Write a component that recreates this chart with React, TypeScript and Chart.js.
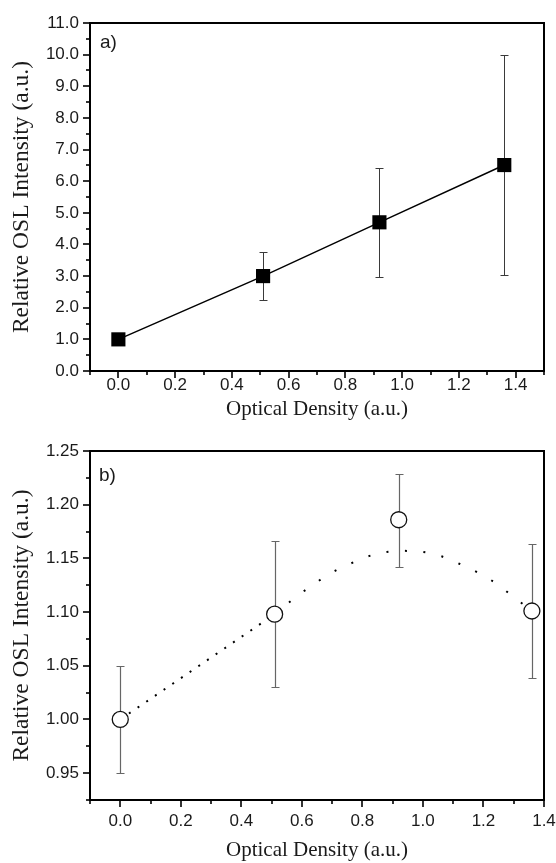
import React, { useEffect, useRef } from "react";
import { Chart, registerables } from "chart.js";

Chart.register(...registerables);

// ---------- Panel a) data ----------
const densityA = [0.0, 0.51, 0.92, 1.36];
const intensityA = [1.0, 3.0, 4.7, 6.51];
const errLowA: (number | null)[] = [null, 2.24, 2.97, 3.02];
const errHighA: (number | null)[] = [null, 3.77, 6.43, 10.0];

// ---------- Panel b) data ----------
const densityB = [0.0, 0.51, 0.92, 1.36];
const intensityB = [1.0, 1.098, 1.186, 1.101];
const errLowB: (number | null)[] = [0.95, 1.03, 1.142, 1.039];
const errHighB: (number | null)[] = [1.05, 1.166, 1.229, 1.163];

// dotted trend in panel b
const trendLeftX = [0.0, 0.51];
const trendLeftY = [1.0, 1.098];
const trendRightX = [0.51, 0.58, 0.64, 0.7, 0.76, 0.82, 0.88, 0.94, 1.0, 1.06, 1.12, 1.18, 1.24, 1.3, 1.36];
const trendRightY = [1.098, 1.114, 1.126, 1.137, 1.145, 1.152, 1.156, 1.157, 1.156, 1.152, 1.145, 1.137, 1.127, 1.114, 1.101];

// ---------- ticks ----------
const xMajorA = [0.0, 0.2, 0.4, 0.6, 0.8, 1.0, 1.2, 1.4];
const xMinorA = [-0.1, 0.1, 0.3, 0.5, 0.7, 0.9, 1.1, 1.3, 1.5];
const yMajorA = [0, 1, 2, 3, 4, 5, 6, 7, 8, 9, 10, 11];
const yMinorA = [0.5, 1.5, 2.5, 3.5, 4.5, 5.5, 6.5, 7.5, 8.5, 9.5, 10.5];

const xMajorB = [0.0, 0.2, 0.4, 0.6, 0.8, 1.0, 1.2, 1.4];
const xMinorB = [-0.1, 0.1, 0.3, 0.5, 0.7, 0.9, 1.1, 1.3];
const yMajorB = [0.95, 1.0, 1.05, 1.1, 1.15, 1.2, 1.25];
const yMinorB = [0.925, 0.975, 1.025, 1.075, 1.125, 1.175, 1.225];

const xTitle = "Optical Density (a.u.)";
const yTitle = "Relative OSL Intensity (a.u.)";
const labelA = "a)";
const labelB = "b)";

const SANS = "'Liberation Sans', Arial, sans-serif";
const SERIF = "'Liberation Serif', 'Times New Roman', serif";
const TEXT = "#1a1a1a";

function framePlugin(xMajor: number[], xMinor: number[], yMajor: number[], yMinor: number[]) {
  return {
    id: "frame",
    afterDraw(chart: any) {
      const { ctx, chartArea } = chart;
      const { left, right, top, bottom } = chartArea;
      const xs = chart.scales.x;
      const ys = chart.scales.y;
      ctx.save();
      ctx.strokeStyle = "#000";
      ctx.lineWidth = 2;
      ctx.strokeRect(left, top, right - left, bottom - top);
      ctx.lineWidth = 1.6;
      const tick = (x1: number, y1: number, x2: number, y2: number) => {
        ctx.beginPath();
        ctx.moveTo(x1, y1);
        ctx.lineTo(x2, y2);
        ctx.stroke();
      };
      xMajor.forEach((v) => {
        const p = Math.round(xs.getPixelForValue(v));
        tick(p, bottom, p, bottom + 7);
      });
      xMinor.forEach((v) => {
        const p = Math.round(xs.getPixelForValue(v));
        tick(p, bottom, p, bottom + 4);
      });
      yMajor.forEach((v) => {
        const p = Math.round(ys.getPixelForValue(v));
        tick(left, p, left - 7, p);
      });
      yMinor.forEach((v) => {
        const p = Math.round(ys.getPixelForValue(v));
        tick(left, p, left - 4, p);
      });
      ctx.restore();
    },
  };
}

function errorBarPlugin(xs: number[], lows: (number | null)[], highs: (number | null)[], color: string, width: number) {
  return {
    id: "errorBars",
    beforeDatasetsDraw(chart: any) {
      const { ctx } = chart;
      const sx = chart.scales.x;
      const sy = chart.scales.y;
      ctx.save();
      ctx.strokeStyle = color;
      ctx.lineWidth = width;
      xs.forEach((xv, i) => {
        const lo = lows[i];
        const hi = highs[i];
        if (lo == null || hi == null) return;
        const px = Math.round(sx.getPixelForValue(xv)) + 0.5;
        const y1 = Math.round(sy.getPixelForValue(lo)) + 0.5;
        const y2 = Math.round(sy.getPixelForValue(hi)) + 0.5;
        const cap = 4;
        ctx.beginPath();
        ctx.moveTo(px, y1);
        ctx.lineTo(px, y2);
        ctx.moveTo(px - cap, y1);
        ctx.lineTo(px + cap, y1);
        ctx.moveTo(px - cap, y2);
        ctx.lineTo(px + cap, y2);
        ctx.stroke();
      });
      ctx.restore();
    },
  };
}

function panelLabelPlugin(text: string, dx: number, dy: number) {
  return {
    id: "panelLabel",
    afterDraw(chart: any) {
      const { ctx, chartArea } = chart;
      ctx.save();
      ctx.fillStyle = TEXT;
      ctx.font = `19px ${SANS}`;
      ctx.textBaseline = "alphabetic";
      ctx.textAlign = "left";
      ctx.fillText(text, chartArea.left + dx, chartArea.top + dy);
      ctx.restore();
    },
  };
}

function axisOptions(opts: {
  min: number;
  max: number;
  majors: number[];
  digits: number;
  horizontal: boolean;
  size: number;
  tickPadding: number;
  titlePadding: any;
}) {
  return {
    type: "linear",
    min: opts.min,
    max: opts.max,
    bounds: "data",
    afterBuildTicks: (s: any) => {
      s.ticks = opts.majors.map((v) => ({ value: v }));
    },
    afterFit: (s: any) => {
      if (opts.horizontal) s.height = opts.size;
      else s.width = opts.size;
      s.paddingLeft = 0;
      s.paddingRight = 0;
      s.paddingTop = 0;
      s.paddingBottom = 0;
    },
    grid: { display: false, drawTicks: false },
    border: { display: false },
    ticks: {
      autoSkip: false,
      maxRotation: 0,
      padding: opts.tickPadding,
      color: TEXT,
      font: { family: SANS, size: 17 },
      callback: (v: any) => Number(v).toFixed(opts.digits),
    },
    title: {
      display: true,
      text: opts.horizontal ? xTitle : yTitle,
      color: TEXT,
      font: { family: SERIF, size: opts.horizontal ? 21 : 23.5 },
      padding: opts.titlePadding,
    },
  };
}

export default function App() {
  const refA = useRef<HTMLCanvasElement | null>(null);
  const refB = useRef<HTMLCanvasElement | null>(null);

  useEffect(() => {
    const common = {
      responsive: false,
      maintainAspectRatio: false,
      devicePixelRatio: 1,
      animation: false,
      events: [],
      plugins: { legend: { display: false }, tooltip: { enabled: false } },
    };

    const chartA = new Chart(refA.current as HTMLCanvasElement, {
      type: "scatter",
      data: {
        datasets: [
          {
            data: densityA.map((x, i) => ({ x, y: intensityA[i] })),
            showLine: true,
            borderColor: "#000",
            borderWidth: 1.5,
            tension: 0,
            pointStyle: "rect",
            pointRadius: 10,
            pointBackgroundColor: "#000",
            pointBorderColor: "#000",
            pointBorderWidth: 0,
          },
        ],
      },
      options: {
        ...common,
        layout: { padding: { top: 23, right: 12, left: 0, bottom: 0 } },
        scales: {
          x: axisOptions({
            min: -0.1,
            max: 1.5,
            majors: xMajorA,
            digits: 1,
            horizontal: true,
            size: 59,
            tickPadding: 4,
            titlePadding: { top: 0, bottom: 8 },
          }),
          y: axisOptions({
            min: 0,
            max: 11,
            majors: yMajorA,
            digits: 1,
            horizontal: false,
            size: 90,
            tickPadding: 11,
            titlePadding: { top: 8, bottom: 0 },
          }),
        },
      } as any,
      plugins: [
        errorBarPlugin(densityA, errLowA, errHighA, "#3a3a3a", 1),
        framePlugin(xMajorA, xMinorA, yMajorA, yMinorA),
        panelLabelPlugin(labelA, 10, 25),
      ],
    } as any);

    const chartB = new Chart(refB.current as HTMLCanvasElement, {
      type: "scatter",
      data: {
        datasets: [
          {
            data: densityB.map((x, i) => ({ x, y: intensityB[i] })),
            showLine: false,
            pointStyle: "circle",
            pointRadius: 8,
            pointBackgroundColor: "#fff",
            pointBorderColor: "#111",
            pointBorderWidth: 1.3,
          },
          {
            data: trendLeftX.map((x, i) => ({ x, y: trendLeftY[i] })),
            showLine: true,
            pointRadius: 0,
            borderColor: "#000",
            borderWidth: 2,
            borderDash: [2, 8.5],
            tension: 0,
          },
          {
            data: trendRightX.map((x, i) => ({ x, y: trendRightY[i] })),
            showLine: true,
            pointRadius: 0,
            borderColor: "#000",
            borderWidth: 2,
            borderDash: [2, 16.5],
            cubicInterpolationMode: "monotone",
          },
        ],
      },
      options: {
        ...common,
        layout: { padding: { top: 21, right: 12, left: 0, bottom: 0 } },
        scales: {
          x: axisOptions({
            min: -0.1,
            max: 1.4,
            majors: xMajorB,
            digits: 1,
            horizontal: true,
            size: 63,
            tickPadding: 11,
            titlePadding: { top: 0, bottom: 0 },
          }),
          y: axisOptions({
            min: 0.925,
            max: 1.25,
            majors: yMajorB,
            digits: 2,
            horizontal: false,
            size: 90,
            tickPadding: 11,
            titlePadding: { top: 8, bottom: 0 },
          }),
        },
      } as any,
      plugins: [
        errorBarPlugin(densityB, errLowB, errHighB, "#666", 1.2),
        framePlugin(xMajorB, xMinorB, yMajorB, yMinorB),
        panelLabelPlugin(labelB, 9, 30),
      ],
    } as any);

    return () => {
      chartA.destroy();
      chartB.destroy();
    };
  }, []);

  return (
    <div style={{ position: "absolute", left: 0, top: 0, width: 556, height: 863, background: "#fff" }}>
      <canvas
        ref={refA}
        width={556}
        height={430}
        style={{ position: "absolute", left: 0, top: 0, width: 556, height: 430 }}
      />
      <canvas
        ref={refB}
        width={556}
        height={433}
        style={{ position: "absolute", left: 0, top: 430, width: 556, height: 433 }}
      />
    </div>
  );
}
